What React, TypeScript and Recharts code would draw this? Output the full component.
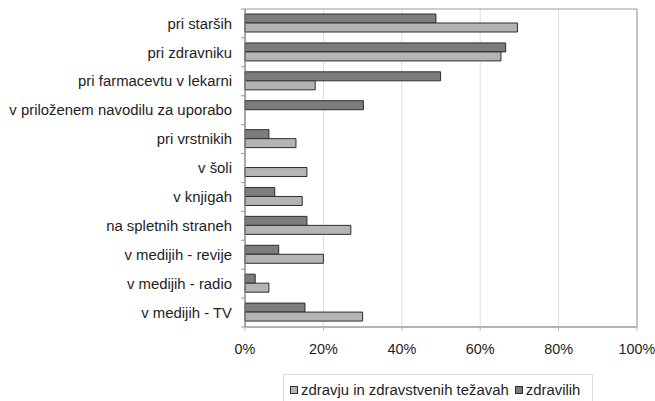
import {
  BarChart,
  Bar,
  XAxis,
  YAxis,
  CartesianGrid,
  ReferenceArea,
  Legend,
} from 'recharts';

const categories = [
  'pri starših',
  'pri zdravniku',
  'pri farmacevtu v lekarni',
  'v priloženem navodilu za uporabo',
  'pri vrstnikih',
  'v šoli',
  'v knjigah',
  'na spletnih straneh',
  'v medijih - revije',
  'v medijih - radio',
  'v medijih - TV',
];
const zdravilih = [48.7, 66.5, 49.9, 30.2, 6.1, 0, 7.6, 15.8, 8.6, 2.6, 15.3];
const zdravju = [69.5, 65.3, 17.9, 0, 13.0, 15.8, 14.6, 27.0, 20.0, 6.1, 30.0];
const xTicks = [0, 20, 40, 60, 80, 100];

const seriesNames = {
  zdravju: 'zdravju in zdravstvenih težavah',
  zdravilih: 'zdravilih',
};

const DARK = '#7c7c7c';
const LIGHT = '#b4b4b4';
const EDGE = '#2e2e2e';
const FONT = '"Liberation Sans", Arial, sans-serif';

const W = 655;
const H = 401;
const TOP = 9;
const PLOT_LEFT = 245;
const PLOT_BOTTOM = 327;
const BAND = (PLOT_BOTTOM - TOP) / categories.length;

const data = categories.map((name, i) => ({
  name,
  zdravilih: zdravilih[i],
  zdravju: zdravju[i],
}));

// label + small tick marks at the category boundaries (Excel style)
function CategoryTick(props: any) {
  const { y, payload, index } = props;
  const isLast = index === categories.length - 1;
  return (
    <g>
      <line x1={PLOT_LEFT - 4} x2={PLOT_LEFT} y1={y - BAND / 2} y2={y - BAND / 2} stroke="#999" />
      {isLast && (
        <line x1={PLOT_LEFT - 4} x2={PLOT_LEFT} y1={y + BAND / 2} y2={y + BAND / 2} stroke="#999" />
      )}
      <text
        x={PLOT_LEFT - 13}
        y={y}
        dy="0.35em"
        textAnchor="end"
        fill="#1e1e1e"
        fontSize={14.9}
        fontFamily={FONT}
      >
        {payload.value}
      </text>
    </g>
  );
}

function LegendBox() {
  const swatch = (fill: string) => (
    <span
      style={{
        display: 'inline-block',
        width: 8,
        height: 8,
        background: fill,
        border: `1px solid ${EDGE}`,
        marginRight: 3,
        boxSizing: 'border-box',
      }}
    />
  );
  return (
    <div style={{ height: 34, overflow: 'hidden' }}>
      <div
        style={{
          marginTop: 7,
          height: 32,
          border: '1px solid #dcdcdc',
          boxSizing: 'border-box',
          display: 'flex',
          alignItems: 'center',
          paddingLeft: 6,
          paddingBottom: 0,
          fontFamily: FONT,
          fontSize: 14.9,
          color: '#1e1e1e',
          whiteSpace: 'nowrap',
        }}
      >
        {swatch(LIGHT)}
        <span style={{ marginRight: 6 }}>{seriesNames.zdravju}</span>
        {swatch(DARK)}
        <span>{seriesNames.zdravilih}</span>
      </div>
    </div>
  );
}

export default function App() {
  return (
    <div
      style={{
        position: 'fixed',
        left: 0,
        top: 0,
        width: W,
        height: H,
        overflow: 'hidden',
        background: '#fff',
      }}
    >
      <BarChart
        width={W}
        height={H}
        data={data}
        layout="vertical"
        margin={{ top: TOP, right: W - 637, left: 0, bottom: 0 }}
        barGap={0}
        barSize={9}
      >
        <CartesianGrid horizontal={false} vertical stroke="#dedede" />
        <ReferenceArea
          x1={0}
          x2={100}
          fill="none"
          stroke="#9a9a9a"
          strokeWidth={1}
          ifOverflow="visible"
        />
        <XAxis
          type="number"
          domain={[0, 100]}
          ticks={xTicks}
          tickFormatter={(v) => `${v}%`}
          height={40}
          tickSize={4}
          tickMargin={13}
          axisLine={{ stroke: '#9a9a9a' }}
          tickLine={{ stroke: '#bbb' }}
          tick={{ fill: '#1e1e1e', fontSize: 14.4, fontFamily: FONT }}
          interval={0}
        />
        <YAxis
          type="category"
          dataKey="name"
          width={PLOT_LEFT}
          axisLine={{ stroke: '#8a8a8a' }}
          tickLine={false}
          tick={<CategoryTick />}
          interval={0}
        />
        <Legend
          verticalAlign="bottom"
          content={() => <LegendBox />}
          wrapperStyle={{ left: 283, width: 310, height: 34 }}
        />
        <Bar
          dataKey="zdravilih"
          name={seriesNames.zdravilih}
          fill={DARK}
          stroke={EDGE}
          strokeWidth={1}
          isAnimationActive={false}
        />
        <Bar
          dataKey="zdravju"
          name={seriesNames.zdravju}
          fill={LIGHT}
          stroke={EDGE}
          strokeWidth={1}
          isAnimationActive={false}
        />
      </BarChart>
    </div>
  );
}
